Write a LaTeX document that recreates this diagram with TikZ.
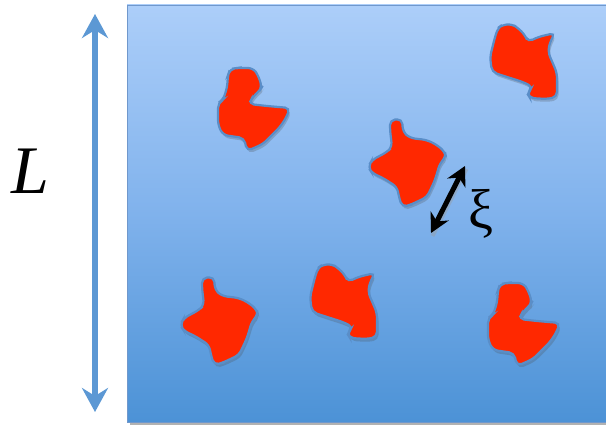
\documentclass[tikz,border=0pt]{standalone}
\usepackage{fontspec}
\setmainfont{Liberation Serif}
\usetikzlibrary{arrows.meta,shadows}
\definecolor{boxtop}{RGB}{172,206,249}
\definecolor{boxbot}{RGB}{76,146,214}
\definecolor{boxedge}{RGB}{112,152,204}
\definecolor{blobred}{RGB}{255,40,0}
\definecolor{blobedge}{RGB}{90,142,200}
\definecolor{arrowblue}{RGB}{92,152,212}
\tikzset{
  blob/.style={fill=blobred, draw=blobedge, line width=2.2pt, rounded corners=5pt,
    drop shadow={opacity=0.25, shadow xshift=1.5pt, shadow yshift=-3pt, fill=black!70}},
  sizearrow/.style={draw=arrowblue, line width=5.5pt, {Stealth[length=24pt,width=26pt,inset=8pt]}-{Stealth[length=24pt,width=26pt,inset=8pt]}},
  corrarrow/.style={draw=black, line width=5pt, {Stealth[length=19pt,width=20pt,inset=6pt]}-{Stealth[length=19pt,width=20pt,inset=6pt]}},
  blobA/.pic={\path[blob] (30,14) -- (37,13) -- (53,13) -- (58,20) -- (62,32) -- (60,35) -- (52,43) -- (49,49) -- (67,51) -- (90,53) -- (86,63) -- (80,72) -- (72,80) -- (63,89) -- (47,96) -- (44,83) -- (23,80) -- (18,70) -- (18,48) -- (23,45) -- (27,33) -- (28,20) -- cycle;},
  blobB/.pic={\path[blob] (22,15) -- (32,14) -- (38,18) -- (45,25) -- (48,32) -- (58,27) -- (75,23) -- (70,32) -- (68,42) -- (77,63) -- (77,87) -- (67,89) -- (50,88) -- (47,83) -- (53,77) -- (43,72) -- (27,67) -- (12,62) -- (10,47) -- (15,27) -- (18,18) -- cycle;},
  blobC/.pic={\path[blob] (30,10) -- (42,9) -- (43,22) -- (50,28) -- (67,30) -- (77,35) -- (85,42) -- (86,47) -- (80,53) -- (75,70) -- (67,87) -- (50,95) -- (42,97) -- (39,87) -- (37,77) -- (23,68) -- (12,63) -- (8,57) -- (12,50) -- (27,42) -- (32,37) -- (30,20) -- cycle;}
}
\begin{document}
\begin{tikzpicture}[x=1pt,y=-1pt]
\useasboundingbox (0,0) rectangle (606,427);
% box with shadow
\fill[black!30] (130,8) rectangle (609,425);
\shade[top color=boxtop, bottom color=boxbot, middle color={rgb,255:red,128;green,178;blue,236}] (127,5) rectangle (606,422);
\draw[boxedge, line width=0.8pt] (127,5) rectangle (606,422);
% blobs
\pic (a1) at (200,55) {blobA};
\pic (a2) at (470,270) {blobA};
\pic (b1) at (480,10) {blobB};
\pic (b2) at (300,250) {blobB};
\pic (c1) at (360,110) {blobC};
\pic (c2) at (172,268) {blobC};
% size arrow
\coordinate (ltop) at (95,14);
\coordinate (lbot) at (95,412);
\draw[sizearrow] (ltop) -- (lbot);
\node (L) at (30,171) {\fontsize{68}{70}\selectfont\itshape L};
% correlation arrow
\coordinate (xtop) at (465,166);
\coordinate (xbot) at (431,233);
\draw[black!40, line width=4pt, opacity=0.4] ([xshift=1.5pt,yshift=-3pt]xtop) -- ([xshift=1.5pt,yshift=-3pt]xbot);
\draw[corrarrow] (xtop) -- (xbot);
\node (xi) at (481,214) {\fontsize{56}{58}\selectfont ξ};
\end{tikzpicture}
\end{document}
